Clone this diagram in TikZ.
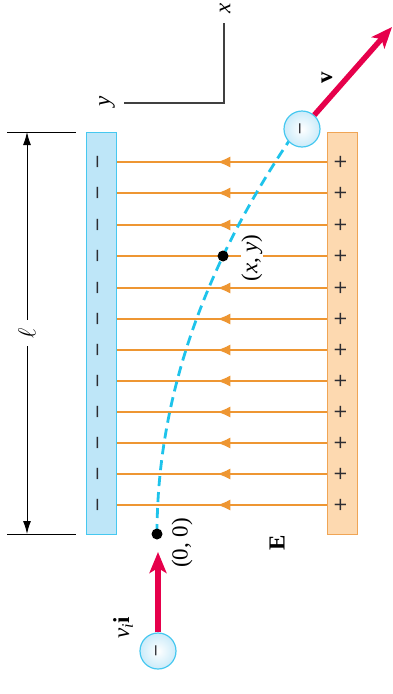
\documentclass[tikz,border=0pt]{standalone}
\usepackage{fontspec}
\setmainfont{Liberation Serif}
\newfontfamily\signfont{DejaVu Sans}
\usetikzlibrary{arrows.meta,decorations.markings}
\definecolor{plateblue}{RGB}{190,230,248}
\definecolor{edgeblue}{RGB}{70,200,240}
\definecolor{plateor}{RGB}{253,217,176}
\definecolor{edgeor}{RGB}{240,165,85}
\definecolor{fieldor}{RGB}{238,150,50}
\definecolor{vred}{RGB}{230,0,75}
\definecolor{pathblue}{RGB}{30,195,235}
\definecolor{signgray}{RGB}{45,45,50}
\begin{document}
\begin{tikzpicture}[x=1pt,y=-1pt,
  plateN/.style={draw=edgeblue, fill=plateblue, line width=1pt, minimum width=30pt, minimum height=402pt, inner sep=0pt},
  plateP/.style={draw=edgeor, fill=plateor, line width=1pt, minimum width=30pt, minimum height=402pt, inner sep=0pt},
  sign/.style={rotate=90, font=\signfont\fontsize{18}{18}\selectfont, text=signgray, inner sep=0pt},
  fieldline/.style={draw=fieldor, line width=1.3pt},
  fieldarrow/.style={fieldline, postaction={decorate}, decoration={markings, mark=at position 0.52 with {\arrow[fieldor]{Latex[length=13pt,width=11pt]}}}},
  pathdash/.style={draw=pathblue, line width=2.8pt, dash pattern=on 10pt off 6pt},
  dot/.style={circle, fill=black, minimum size=11pt, inner sep=0pt},
  charge/.style={circle, minimum size=36pt, inner sep=0pt, draw=edgeblue, line width=1.2pt, inner color=white, outer color=plateblue!80, rotate=90, font=\signfont\fontsize{16}{16}\selectfont, text=signgray},
  varrow/.style={draw=vred, line width=5.5pt, -{Stealth[length=21pt,width=17pt,inset=5pt]}},
  lbl/.style={rotate=90, font=\fontsize{23}{25}\selectfont, inner sep=1pt},
  dimline/.style={draw=black, line width=1pt},
  axisline/.style={draw=black!75, line width=1.3pt}
]
\useasboundingbox (0,0) rectangle (393,694);

% field lines
\foreach \i/\yy in {1/162,2/193,3/225,5/288,6/319,7/350,8/381,9/412,10/443,11/474,12/505}{
  \coordinate (fr\i) at (327,\yy);
  \coordinate (fl\i) at (116,\yy);
  \draw[fieldarrow] (fr\i) -- (fl\i);
}
\coordinate (fr4) at (327,256);
\coordinate (fl4) at (116,256);
\draw[fieldline] (fr4) -- (fl4);

% plates
\node[plateN] (neg) at (101,333) {};
\node[plateP] (pos) at (342,333) {};
\foreach \i/\yy in {1/162,2/193,3/225,4/256,5/288,6/319,7/350,8/381,9/412,10/443,11/474,12/505}{
  \node[sign] (m\i) at (100,\yy) {−};
  \node[sign] (p\i) at (341,\yy) {+};
}

% dimension
\coordinate (d1a) at (7,132);
\coordinate (d1b) at (76,132);
\coordinate (d2a) at (7,534);
\coordinate (d2b) at (76,534);
\draw[dimline] (d1a) -- (d1b);
\draw[dimline] (d2a) -- (d2b);
\coordinate (dtop) at (27,132);
\coordinate (dbot) at (27,534);
\draw[dimline, {Latex[length=13pt,width=8pt]}-{Latex[length=13pt,width=8pt]}] (dtop) -- (dbot);
\node[fill=white, rotate=90, inner xsep=8pt, inner ysep=2pt, font=\fontsize{23}{25}\selectfont] (ell) at (27,333) {$\ell$};

% axes
\coordinate (ax) at (224,23);
\coordinate (ao) at (224,103);
\coordinate (ay) at (124,103);
\draw[axisline] (ay) -- (ao) -- (ax);
\node[lbl] (xl) at (225,8) {\itshape x};
\node[lbl] (yl) at (107,101) {\itshape y};

% trajectory
\draw[pathdash] plot[domain=0:402, samples=50] ({157+0.00085*\x*\x},{534-\x});
\node[dot] (o) at (157,534) {};
\node[dot] (pxy) at ({157+0.00085*278*278},256) {};

% charges
\node[charge] (q1) at (158,651) {−};
\node[charge] (q2) at (302,129) {−};
\coordinate (vitip) at (158,552);
\coordinate (vtip) at (392,27);
\draw[varrow] (q1) -- (vitip);
\draw[varrow] (q2) -- (vtip);

% labels
\node[lbl, font=\fontsize{23}{25}\bfseries] (vl) at (327,78) {v};
\node[lbl] (vil) at (123,628) {{\itshape v}\textsubscript{\itshape i}{\bfseries i}};
\node[lbl, fill=white] (xyl) at (252,258) {({\itshape x}, {\itshape y})};
\node[lbl] (ool) at (182,543) {(0, 0)};
\node[lbl, font=\fontsize{23}{25}\bfseries] (El) at (277,543) {E};
\end{tikzpicture}
\end{document}
